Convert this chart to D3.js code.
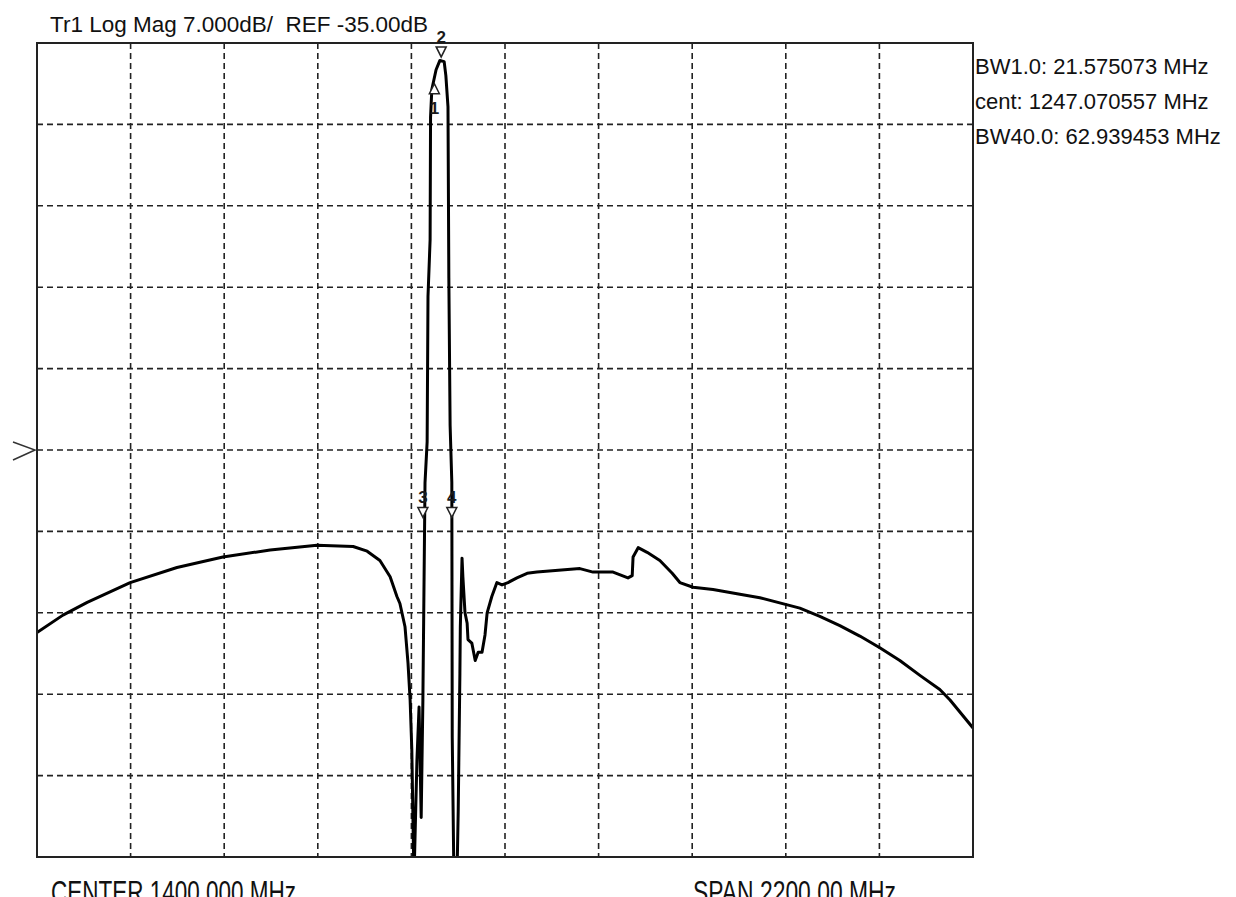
<!DOCTYPE html>
<html>
<head>
<meta charset="utf-8">
<script src="https://cdn.jsdelivr.net/npm/d3@7"></script>
<style>
  body { margin: 0; background: #fff; }
  svg text { font-family: "Liberation Sans", Arial, sans-serif; white-space: pre; }
</style>
</head>
<body>
<div id="chart"></div>
<script>
// Trace data (MHz / dB)
const freqs = [300, 361, 418, 519, 629, 737, 848, 958, 1043, 1076, 1106, 1130, 1146, 1153, 1165,
  1172, 1177, 1181, 1186, 1193, 1198, 1203, 1207, 1212, 1217, 1219, 1224, 1225, 1228, 1238,
  1247, 1257, 1261, 1266, 1268, 1271, 1275, 1276, 1280, 1287, 1290, 1294, 1295, 1299, 1301,
  1306, 1311, 1313, 1322, 1330, 1337, 1346, 1353, 1358, 1369, 1381, 1393, 1407, 1428, 1452,
  1475, 1576, 1607, 1654, 1689, 1699, 1701, 1713, 1734, 1764, 1793, 1811, 1842, 1889, 1952,
  1999, 2093, 2140, 2187, 2234, 2281, 2328, 2376, 2422, 2446, 2500];
const magDb = [-50.7, -49.2, -48.1, -46.4, -45.1, -44.2, -43.6, -43.2, -43.3, -43.7, -44.5,
  -45.9, -47.6, -48.2, -50.2, -53.3, -56.5, -60.8, -72, -61.7, -57.1, -66.6, -56.5, -37.8,
  -34.3, -21.8, -16.9, -6.4, -4.0, -2.3, -1.5, -1.6, -2.8, -5.5, -20.2, -32.9, -37.8, -59.7,
  -72, -72, -66.1, -54.2, -50.2, -44.3, -45.9, -49.0, -49.9, -51.3, -51.6, -53.1, -52.4,
  -52.4, -50.9, -49.0, -47.6, -46.4, -46.6, -46.4, -46.0, -45.6, -45.5, -45.2, -45.5, -45.5,
  -46.0, -45.8, -44.2, -43.4, -43.8, -44.5, -45.6, -46.4, -46.8, -47.0, -47.4, -47.7, -48.6,
  -49.3, -50.1, -51.0, -52.0, -53.1, -54.4, -55.6, -56.5, -58.9];

// markers: id, freq, level, shape
const markerIds = ["1", "2", "3", "4"];
const markerFreqs = [1234, 1250, 1207, 1275];
const markerDb = [-3.5, -1.2, -40.8, -40.8];
const markerDir = ["up", "down", "down", "down"];

const headerText = "Tr1 Log Mag 7.000dB/  REF -35.00dB";
const infoLines = ["BW1.0: 21.575073 MHz", "cent: 1247.070557 MHz", "BW40.0: 62.939453 MHz"];
const footerLeft = "CENTER 1400.000 MHz";
const footerRight = "SPAN 2200.00 MHz";

const W = 1236, H = 897;
const plot = { left: 37, top: 43, right: 973, bottom: 857 };

const svg = d3.select("#chart").append("svg")
    .attr("width", W)
    .attr("height", H);

// 10 div x 10 div, center 1400 MHz span 2200, 7 dB/div with REF -35 in the middle
const xScale = d3.scaleLinear().domain([300, 2500]).range([plot.left, plot.right]);
const yScale = d3.scaleLinear().domain([0, -70]).range([plot.top, plot.bottom]);

const xGrid = d3.range(1, 10).map(i => 300 + i * 220);
const yGrid = d3.range(1, 10).map(i => -i * 7);

svg.selectAll(".vgrid")
    .data(xGrid)
    .enter()
    .append("line")
    .attr("class", "vgrid")
    .attr("x1", d => xScale(d)).attr("x2", d => xScale(d))
    .attr("y1", plot.top).attr("y2", plot.bottom)
    .attr("stroke", "#222")
    .attr("stroke-width", 1.6)
    .attr("stroke-dasharray", "6,4");

svg.selectAll(".hgrid")
    .data(yGrid)
    .enter()
    .append("line")
    .attr("class", "hgrid")
    .attr("x1", plot.left).attr("x2", plot.right)
    .attr("y1", d => yScale(d)).attr("y2", d => yScale(d))
    .attr("stroke", "#222")
    .attr("stroke-width", 1.6)
    .attr("stroke-dasharray", "6,4");

// clip the trace to the screen
svg.append("clipPath").attr("id", "plotclip")
    .append("rect")
    .attr("x", plot.left).attr("y", plot.top)
    .attr("width", plot.right - plot.left)
    .attr("height", plot.bottom - plot.top);

const trace = freqs.map((f, i) => ({ f: f, db: magDb[i] }));

const line = d3.line()
    .x(d => xScale(d.f))
    .y(d => yScale(d.db));

svg.append("path")
    .datum(trace)
    .attr("clip-path", "url(#plotclip)")
    .attr("fill", "none")
    .attr("stroke", "#000")
    .attr("stroke-width", 3)
    .attr("stroke-linejoin", "round")
    .attr("d", line);

// frame
svg.append("rect")
    .attr("x", plot.left).attr("y", plot.top)
    .attr("width", plot.right - plot.left)
    .attr("height", plot.bottom - plot.top)
    .attr("fill", "none")
    .attr("stroke", "#222")
    .attr("stroke-width", 2);

// reference level pointer on the left edge
const refY = yScale(-35);
svg.append("path")
    .attr("d", `M${plot.left - 24},${refY - 8} L${plot.left - 2},${refY} L${plot.left - 24},${refY + 10}`)
    .attr("fill", "none")
    .attr("stroke", "#333")
    .attr("stroke-width", 1.5);

// markers
const markers = markerIds.map((id, i) => ({
    id: id, f: markerFreqs[i], db: markerDb[i], dir: markerDir[i]
}));

svg.selectAll(".marker")
    .data(markers)
    .enter()
    .append("path")
    .attr("class", "marker")
    .attr("d", d => {
        const x = xScale(d.f), y = yScale(d.db);
        return d.dir === "down"
            ? `M${x - 5},${y - 10} L${x + 5},${y - 10} L${x},${y} Z`
            : `M${x - 5},${y + 10} L${x + 5},${y + 10} L${x},${y} Z`;
    })
    .attr("fill", "#fff")
    .attr("stroke", "#222")
    .attr("stroke-width", 1.5);

svg.selectAll(".marker-label")
    .data(markers)
    .enter()
    .append("text")
    .attr("class", "marker-label")
    .attr("x", d => xScale(d.f))
    .attr("y", d => d.dir === "up" ? yScale(d.db) + 30 : yScale(d.db) - 14)
    .attr("text-anchor", "middle")
    .attr("font-size", 17)
    .attr("font-weight", "bold")
    .attr("fill", "#1a1a1a")
    .text(d => d.id);

// header / info text
svg.append("text")
    .attr("x", 50).attr("y", 32)
    .attr("font-size", 22.5)
    .attr("fill", "#111")
    .text(headerText);

svg.selectAll(".info")
    .data(infoLines)
    .enter()
    .append("text")
    .attr("class", "info")
    .attr("x", 975)
    .attr("y", (d, i) => 74 + i * 35)
    .attr("font-size", 22)
    .attr("fill", "#111")
    .text(d => d);

// footer runs off the bottom edge, as on the screen capture
svg.append("text")
    .attr("x", 51).attr("y", 903)
    .attr("font-size", 32)
    .attr("textLength", 245)
    .attr("lengthAdjust", "spacingAndGlyphs")
    .attr("fill", "#111")
    .text(footerLeft);

svg.append("text")
    .attr("x", 693).attr("y", 903)
    .attr("font-size", 32)
    .attr("textLength", 203)
    .attr("lengthAdjust", "spacingAndGlyphs")
    .attr("fill", "#111")
    .text(footerRight);
</script>
</body>
</html>
